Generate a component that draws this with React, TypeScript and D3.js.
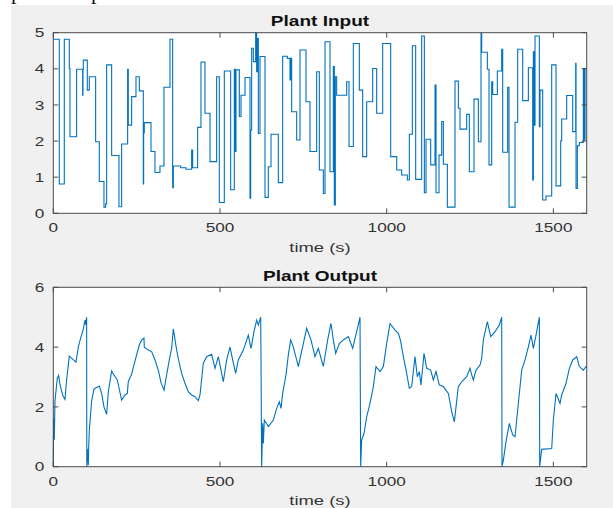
import { useEffect, useRef } from "react";
import * as d3 from "d3";

// plant input: [time (s), value] at the start of each step
const inputSteps: [number, number][] = [
  [0, 4.82], [18, 0.81], [33, 4.82], [48, 4.01], [50, 2.12], [70, 3.99], [88, 3.27], [89, 3.99], [90, 4.24],
  [102, 3.41], [108, 3.78], [127, 1.98], [138, 0.88], [152, 0.17], [157, 0.26], [160, 4.11], [175, 1.6],
  [197, 0.18], [205, 1.92], [223, 3.99], [225, 2.44], [235, 3.23], [248, 3.78], [258, 3.39], [270, 0.81],
  [271, 2.23], [273, 2.51], [293, 1.71], [305, 1.13], [320, 1.31], [332, 3.49], [350, 4.82], [358, 0.71],
  [360, 1.31], [382, 1.26], [398, 1.22], [415, 1.75], [418, 1.26], [433, 2.38], [443, 4.19], [455, 2.77],
  [470, 1.43], [490, 3.78], [498, 0.3], [513, 3.94], [532, 0.65], [543, 3.99], [546, 1.71], [548, 3.97],
  [558, 2.68], [563, 3.27], [575, 3.76], [590, 0.42], [592, 2.31], [595, 4.57], [600, 4.2], [607, 5.0],
  [610, 3.92], [612, 4.84], [615, 2.21], [620, 4.34], [635, 0.44], [645, 1.29], [653, 2.19], [675, 0.85],
  [688, 4.35], [702, 4.29], [710, 3.69], [712, 4.29], [715, 2.81], [730, 2.03], [740, 4.52], [758, 3.09],
  [770, 1.71], [790, 3.92], [798, 1.2], [810, 0.55], [815, 4.75], [830, 1.15], [840, 4.06], [843, 0.23],
  [846, 3.78], [850, 3.27], [880, 3.64], [887, 1.85], [900, 4.7], [918, 3.41], [928, 1.57], [940, 3.09],
  [958, 4.01], [970, 2.77], [988, 4.7], [1012, 1.57], [1030, 1.2], [1045, 1.06], [1062, 0.92], [1068, 2.19],
  [1077, 4.64], [1087, 0.94], [1105, 4.91], [1113, 0.57], [1118, 2.05], [1132, 1.34], [1145, 3.55],
  [1148, 0.57], [1157, 1.61], [1165, 2.54], [1170, 1.36], [1182, 0.17], [1205, 3.66], [1215, 2.91],
  [1220, 2.33], [1240, 2.74], [1248, 1.15], [1262, 3.16], [1275, 1.98], [1283, 4.98], [1285, 4.46],
  [1302, 3.99], [1307, 1.34], [1315, 3.64], [1318, 3.29], [1332, 3.94], [1345, 4.54], [1348, 1.69],
  [1363, 3.49], [1367, 0.17], [1385, 2.52], [1393, 4.54], [1408, 3.12], [1425, 4.03], [1438, 0.92],
  [1440, 4.47], [1442, 2.44], [1445, 4.91], [1458, 2.4], [1460, 3.41], [1468, 0.37], [1478, 0.48],
  [1495, 4.11], [1508, 0.76], [1522, 2.01], [1525, 2.61], [1540, 3.26], [1558, 2.26], [1567, 4.15],
  [1568, 0.69], [1572, 1.87], [1578, 1.96], [1590, 4.01], [1593, 2.03], [1595, 4.01], [1600, 4.01],
];

// plant output: [time (s), value]
const outputPoints: [number, number][] = [
  [0, 0], [1, 1.6], [3, 0.9], [5, 2.2], [12, 2.95], [16, 3.05], [20, 2.75], [28, 2.4], [35, 2.25], [40, 2.9],
  [48, 3.7], [58, 3.6], [68, 3.5], [75, 4.0], [82, 4.3], [90, 4.6], [95, 4.9], [97, 4.75], [100, 5.0],
  [100.5, 0], [102, 0.6], [105, 0.05], [106, 0.6], [108, 1.2], [115, 2.2], [122, 2.6], [130, 2.65],
  [138, 2.7], [145, 2.45], [152, 2.0], [160, 1.75], [165, 2.5], [175, 3.2], [180, 3.1], [192, 2.9],
  [205, 2.23], [215, 2.4], [222, 2.45], [225, 2.85], [235, 3.1], [243, 3.45], [250, 3.75], [258, 4.07],
  [265, 4.24], [272, 4.3], [273, 4.0], [285, 3.9], [295, 3.85], [305, 3.57], [315, 3.23], [323, 2.81],
  [330, 2.62], [332, 2.56], [340, 3.07], [348, 3.57], [355, 3.96], [360, 4.6], [363, 4.4], [370, 3.9],
  [378, 3.46], [385, 3.12], [395, 2.79], [405, 2.51], [415, 2.4], [425, 2.34], [435, 2.21], [440, 2.4],
  [450, 3.46], [460, 3.68], [475, 3.76], [485, 3.29], [495, 3.68], [510, 2.84], [520, 3.57], [530, 4.01],
  [538, 3.57], [547, 3.12], [555, 3.57], [570, 3.9], [585, 4.4], [593, 3.96], [602, 4.52], [610, 4.9],
  [615, 4.74], [622, 5.0], [623, 3.68], [625, 0], [628, 1.45], [630, 0.78], [633, 1.56], [645, 1.34],
  [660, 1.56], [670, 1.95], [678, 2.17], [683, 1.95], [688, 2.45], [698, 3.07], [705, 3.74], [712, 4.24],
  [720, 4.01], [735, 3.35], [750, 4.12], [760, 4.63], [773, 4.24], [785, 3.68], [795, 3.96], [810, 3.35],
  [823, 4.24], [833, 4.79], [840, 4.24], [847, 3.79], [858, 4.12], [870, 4.24], [885, 4.35], [898, 3.96],
  [910, 4.52], [920, 5.0], [922, 0], [925, 0.89], [932, 1.11], [940, 1.67], [950, 2.12], [960, 2.68],
  [968, 3.35], [980, 3.18], [990, 3.35], [1000, 4.12], [1010, 4.79], [1025, 4.57], [1035, 4.46],
  [1042, 4.2], [1050, 3.68], [1060, 3.12], [1068, 2.62], [1075, 2.68], [1085, 3.68], [1092, 3.01],
  [1098, 3.18], [1103, 2.73], [1112, 3.79], [1120, 3.29], [1132, 3.23], [1140, 2.9], [1148, 3.18],
  [1158, 2.73], [1170, 2.68], [1185, 2.45], [1195, 1.84], [1203, 1.5], [1208, 2.0], [1215, 2.68],
  [1225, 2.84], [1240, 3.01], [1250, 3.29], [1255, 3.07], [1260, 2.9], [1268, 3.23], [1280, 3.4],
  [1285, 3.62], [1290, 4.24], [1302, 4.85], [1312, 4.35], [1325, 4.52], [1338, 4.74], [1345, 5.0],
  [1346, 0], [1350, 0.22], [1358, 0.84], [1368, 1.45], [1378, 1.06], [1385, 1.0], [1395, 2.12],
  [1405, 3.23], [1415, 3.57], [1425, 4.01], [1433, 4.4], [1440, 3.96], [1448, 4.4], [1458, 5.0],
  [1459, 0], [1465, 0.58], [1495, 0.61], [1500, 1.56], [1508, 2.45], [1520, 2.12], [1525, 2.4],
  [1538, 2.79], [1548, 3.29], [1558, 3.57], [1570, 3.68], [1578, 3.35], [1590, 3.23], [1598, 3.35],
  [1600, 3.3],
];

const xTicks = [0, 500, 1000, 1500];
const inputYTicks = [0, 1, 2, 3, 4, 5];
const outputYTicks = [0, 2, 4, 6];

const W = 613;
const H = 508;

const App = () => {
  const svgRef = useRef<SVGSVGElement>(null);

  useEffect(() => {
    const svg = d3.select(svgRef.current);
    svg.selectAll("*").remove();

    const left = 53.3;
    const right = 586.7;
    const lineColor = "#0072BD";
    const axisColor = "#4a4a4a";
    const font = "'Liberation Sans', Arial, Helvetica, sans-serif";

    // scanned page bits above the figure
    svg.append("rect").attr("width", W).attr("height", H).attr("fill", "#ffffff");
    svg.append("rect").attr("x", 11).attr("y", 5).attr("width", W - 11).attr("height", H - 5).attr("fill", "#f0f0f0");
    [11, 91].forEach((x) => {
      svg.append("text").attr("x", x).attr("y", -1).text("p")
        .attr("font-family", "'Liberation Serif', serif").attr("font-size", 22).attr("fill", "#111");
    });

    const x = d3.scaleLinear().domain([0, 1600]).range([left, right]);

    function drawAxes(top: number, bottom: number, yMax: number, yTicks: number[], title: string,
      data: [number, number][], step: boolean) {
      const y = d3.scaleLinear().domain([0, yMax]).range([bottom, top]);
      const g = svg.append("g");

      g.append("rect").attr("x", left).attr("y", top).attr("width", right - left).attr("height", bottom - top)
        .attr("fill", "#ffffff");

      const line = d3.line<[number, number]>()
        .x((d) => x(d[0]))
        .y((d) => y(d[1]))
        .curve(step ? d3.curveStepAfter : d3.curveLinear);

      g.append("path").datum(data).attr("d", line).attr("fill", "none")
        .attr("stroke", lineColor).attr("stroke-width", 1.1);

      // box
      g.append("rect").attr("x", left).attr("y", top).attr("width", right - left).attr("height", bottom - top)
        .attr("fill", "none").attr("stroke", axisColor).attr("stroke-width", 1);

      const tl = 5;
      xTicks.forEach((t) => {
        g.append("line").attr("x1", x(t)).attr("x2", x(t)).attr("y1", bottom).attr("y2", bottom - tl)
          .attr("stroke", axisColor);
        g.append("line").attr("x1", x(t)).attr("x2", x(t)).attr("y1", top).attr("y2", top + tl)
          .attr("stroke", axisColor);
        g.append("text").attr("transform", `translate(${x(t)},${bottom + 19}) scale(1.32,1)`)
          .attr("text-anchor", "middle").attr("font-family", font).attr("font-size", 13)
          .attr("fill", "#333").text(t);
      });
      yTicks.forEach((v) => {
        g.append("line").attr("x1", left).attr("x2", left + tl).attr("y1", y(v)).attr("y2", y(v))
          .attr("stroke", axisColor);
        g.append("line").attr("x1", right).attr("x2", right - tl).attr("y1", y(v)).attr("y2", y(v))
          .attr("stroke", axisColor);
        g.append("text").attr("transform", `translate(${left - 9},${y(v) + 4.6}) scale(1.32,1)`)
          .attr("text-anchor", "end").attr("font-family", font).attr("font-size", 13)
          .attr("fill", "#333").text(v);
      });

      g.append("text").attr("transform", `translate(${(left + right) / 2},${top - 6.5}) scale(1.27,1)`)
        .attr("text-anchor", "middle").attr("font-family", font).attr("font-size", 15)
        .attr("font-weight", "bold").attr("fill", "#111").text(title);

      g.append("text").attr("transform", `translate(${(left + right) / 2},${bottom + 38.5}) scale(1.42,1)`)
        .attr("text-anchor", "middle").attr("font-family", font).attr("font-size", 13)
        .attr("fill", "#333").text("time (s)");
    }

    drawAxes(32.7, 213.3, 5, inputYTicks, "Plant Input", inputSteps, true);
    drawAxes(287.3, 466.7, 6, outputYTicks, "Plant Output", outputPoints, false);
  }, []);

  return (
    <svg ref={svgRef} width={W} height={H}
      style={{ position: "absolute", left: 0, top: 0, display: "block" }} />
  );
};

export default App;
